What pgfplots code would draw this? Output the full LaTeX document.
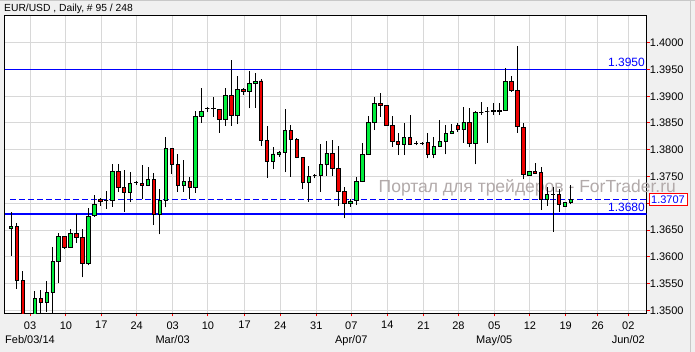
\documentclass[border=0pt]{standalone}
\usepackage{fontspec}
\setmainfont{Liberation Sans}
\usepackage{pgfplots}
\usepackage{pgfplotstable}
\pgfplotsset{compat=1.18}
\usetikzlibrary{backgrounds}
\definecolor{upc}{RGB}{0,238,60}
\definecolor{dnc}{RGB}{238,0,0}
\definecolor{bgc}{RGB}{240,240,240}
\definecolor{gridc}{RGB}{216,216,216}
\definecolor{wm}{RGB}{178,170,170}
\definecolor{edgec}{RGB}{200,200,200}
\definecolor{lineblue}{RGB}{0,0,255}

\pgfplotstableread{
i o h l c
0 1.36532 1.36831 1.36020 1.36575
1 1.36575 1.36637 1.35398 1.35553
2 1.35566 1.35734 1.34725 1.34819
3 1.34819 1.34894 1.34637 1.34856
4 1.34856 1.35366 1.34781 1.35224
5 1.35224 1.35379 1.34955 1.35150
6 1.35150 1.35548 1.34974 1.35342
7 1.35342 1.36188 1.34912 1.35916
8 1.35916 1.36439 1.35505 1.36388
9 1.36388 1.36398 1.36151 1.36170
10 1.36170 1.36519 1.36164 1.36439
11 1.36439 1.36805 1.36263 1.36364
12 1.36364 1.36529 1.35617 1.35878
13 1.35878 1.36906 1.35841 1.36762
14 1.36768 1.37154 1.36749 1.36981
15 1.37074 1.37104 1.36955 1.37037
16 1.37048 1.37235 1.36898 1.37048
17 1.37048 1.37728 1.36936 1.37603
18 1.37603 1.37734 1.37216 1.37298
19 1.37298 1.37616 1.36842 1.37205
20 1.37205 1.37584 1.37018 1.37379
21 1.37384 1.37422 1.37347 1.37384
22 1.37379 1.37709 1.37074 1.37336
23 1.37336 1.37672 1.37323 1.37448
24 1.37448 1.37571 1.36594 1.36794
25 1.36794 1.37267 1.36420 1.37061
26 1.37061 1.38233 1.36925 1.38020
27 1.38020 1.38033 1.37547 1.37728
28 1.37728 1.37915 1.37216 1.37328
29 1.37328 1.37808 1.37216 1.37416
30 1.37416 1.37491 1.37074 1.37291
31 1.37291 1.38724 1.37197 1.38625
32 1.38618 1.39159 1.38505 1.38724
33 1.38774 1.38804 1.38711 1.38774
34 1.38771 1.38980 1.38618 1.38774
35 1.38756 1.38767 1.38319 1.38569
36 1.38569 1.39159 1.38444 1.39017
37 1.39017 1.39677 1.38444 1.38640
38 1.38649 1.39378 1.38481 1.39129
39 1.39129 1.39154 1.39029 1.39085
40 1.39085 1.39471 1.38774 1.39242
41 1.39242 1.39434 1.38786 1.39279
42 1.39285 1.39316 1.38076 1.38182
43 1.38182 1.38444 1.37478 1.37777
44 1.37777 1.38057 1.37640 1.37921
45 1.37915 1.37982 1.37870 1.37958
46 1.37945 1.38767 1.37584 1.38369
47 1.38369 1.38462 1.37496 1.38195
48 1.38195 1.38214 1.37840 1.37859
49 1.37859 1.37865 1.37267 1.37392
50 1.37392 1.37696 1.37029 1.37504
51 1.37515 1.37547 1.37467 1.37515
52 1.37515 1.38107 1.37216 1.37734
53 1.37728 1.38169 1.37515 1.37939
54 1.37939 1.38182 1.37515 1.37653
55 1.37653 1.38076 1.36949 1.37224
56 1.37224 1.37298 1.36719 1.36999
57 1.36999 1.37074 1.36936 1.37037
58 1.37048 1.37496 1.36968 1.37410
59 1.37410 1.38120 1.37397 1.37915
60 1.37915 1.38636 1.37902 1.38513
61 1.38513 1.38980 1.38369 1.38868
62 1.38868 1.39055 1.38618 1.38823
63 1.38831 1.38845 1.38444 1.38462
64 1.38462 1.38631 1.38057 1.38150
65 1.38163 1.38319 1.37902 1.38102
66 1.38102 1.38494 1.37902 1.38233
67 1.38233 1.38649 1.38089 1.38102
68 1.38120 1.38163 1.38083 1.38120
69 1.38117 1.38154 1.38083 1.38120
70 1.38139 1.38307 1.37840 1.37921
71 1.37921 1.38233 1.37840 1.38070
72 1.38070 1.38556 1.38057 1.38163
73 1.38163 1.38462 1.37915 1.38307
74 1.38307 1.38475 1.38294 1.38350
75 1.38449 1.38505 1.38337 1.38388
76 1.38382 1.38793 1.38132 1.38513
77 1.38513 1.38774 1.38046 1.38120
78 1.38120 1.38724 1.37728 1.38692
79 1.38692 1.38892 1.38649 1.38692
80 1.38724 1.38804 1.38132 1.38724
81 1.38724 1.38879 1.38649 1.38730
82 1.38724 1.38868 1.38649 1.38730
83 1.38737 1.39522 1.38724 1.39279
84 1.39279 1.39384 1.39085 1.39103
85 1.39116 1.39944 1.38319 1.38431
86 1.38419 1.38494 1.37448 1.37547
87 1.37528 1.37603 1.37528 1.37603
88 1.37603 1.37747 1.37547 1.37560
89 1.37571 1.37672 1.36874 1.37074
90 1.37074 1.37310 1.36955 1.37160
91 1.37160 1.37310 1.36469 1.37160
92 1.37160 1.37261 1.36842 1.36981
93 1.36949 1.37033 1.36940 1.37024
94 1.37018 1.37341 1.36981 1.37074
}\candles
\pgfplotstablegetrowsof{\candles}
\pgfmathtruncatemacro{\lastrow}{\pgfplotsretval-1}

\begin{document}
\begin{tikzpicture}[x=1pt,y=1pt]
\begin{axis}[
  name=ax,
  scale only axis, width=642pt, height=298pt,
  xmin=-1.058, xmax=106.72, ymin=1.34945, ymax=1.40512,
  clip mode=individual,
  axis background/.style={fill=white},
  axis line style={black, line width=1pt},
  grid=major, major grid style={gridc, line width=1pt},
  tick align=outside, major tick length=3pt,
  xtick pos=left, ytick pos=right,
  xticklabel pos=left, yticklabel pos=right,
  tick style={red, line width=1pt},
  xtick={3.19,9.23,15.16,21.10,27.14,33.07,39.20,45.21,51.25,57.13,63.17,69.25,75.12,81.13,87.12,93.12,98.49,103.63},
  xticklabels={{03\\Feb/03/14},10,17,24,{03\\Mar/03},10,17,24,31,{07\\Apr/07},14,21,28,{05\\May/05},12,19,26,{02\\Jun/02}},
  ytick={1.35,1.355,1.36,1.365,1.37,1.375,1.38,1.385,1.39,1.395,1.40},
  yticklabels={1.3500,1.3550,1.3600,1.3650,{},1.3750,1.3800,1.3850,1.3900,1.3950,1.4000},
  yticklabel style={anchor=west, inner sep=0pt, font=\fontsize{11}{13}\selectfont},
  xticklabel style={anchor=north, inner sep=0pt, align=center, yshift=-4.9pt, font=\fontsize{11}{14.7}\selectfont},
]
\coordinate (BL) at (rel axis cs:0,0);
\node[anchor=base west, inner sep=0pt, text=wm, font=\fontsize{17.5}{20}\selectfont] at (axis cs:61.7,1.37200) {Портал для трейдеров - ForTrader.ru};
\addplot[draw=lineblue, color=lineblue, line width=1.4pt, mark=none] coordinates {(-1.058,1.395) (106.72,1.395)};
\addplot[draw=lineblue, color=lineblue, line width=1.4pt, mark=none] coordinates {(-1.058,1.368) (106.72,1.368)};
\addplot[draw=lineblue, color=lineblue, line width=1.4pt, mark=none, dash pattern=on 6pt off 3pt] coordinates {(-0.17,1.3707) (106.72,1.3707)};
\node[anchor=base east, inner sep=0pt, text=lineblue, font=\fontsize{12}{14}\selectfont] at (axis cs:106.43,1.39552) {1.3950};
\node[anchor=base east, inner sep=0pt, text=lineblue, font=\fontsize{12}{14}\selectfont] at (axis cs:106.43,1.36842) {1.3680};
\pgfplotsforeachungrouped \r in {0,...,\lastrow}{%
  \pgfplotstablegetelem{\r}{i}\of\candles \let\ci\pgfplotsretval
  \pgfplotstablegetelem{\r}{o}\of\candles \let\co\pgfplotsretval
  \pgfplotstablegetelem{\r}{h}\of\candles \let\ch\pgfplotsretval
  \pgfplotstablegetelem{\r}{l}\of\candles \let\cl\pgfplotsretval
  \pgfplotstablegetelem{\r}{c}\of\candles \let\cc\pgfplotsretval
  \ifdim\cc pt>\co pt \def\col{upc}\else \def\col{dnc}\fi
  \pgfmathsetmacro\xl{\ci-0.29}%
  \pgfmathsetmacro\xr{\ci+0.29}%
  \edef\temp{\noexpand\addplot[black, line width=1pt] coordinates {(\ci,\cl) (\ci,\ch)};
    \noexpand\addplot[draw=black, fill=\col, line width=0.9pt, line cap=rect] coordinates {(\xl,\co) (\xr,\co) (\xr,\cc) (\xl,\cc) (\xl,\co)};}%
  \temp
}
\end{axis}
\coordinate (O) at ([shift={(-4.7pt,-38.7pt)}]BL);
\begin{scope}[on background layer]
\begin{scope}[shift={(O)}]
\fill[bgc] (0,0) rectangle (695,352);
\draw[edgec, line width=1pt] (0,351.5) -- (695,351.5);
\draw[edgec, line width=1pt] (690.7,0) -- (690.7,352);
\end{scope}
\end{scope}
\begin{scope}[shift={(O)}]
\node[anchor=base west, inner sep=0pt, font=\fontsize{10.3}{12}\selectfont] at (4,340) {EUR/USD , Daily, \# 95 / 248};
\node[draw=red, fill=white, line width=1pt, minimum width=38pt, minimum height=11.7pt, inner sep=0pt, text=lineblue, font=\fontsize{11}{13}\selectfont] at (668,152.2) {1.3707};
\end{scope}
\pgfresetboundingbox
\path[use as bounding box] (O) rectangle ([shift={(695pt,352pt)}]O);
\end{tikzpicture}
\end{document}
